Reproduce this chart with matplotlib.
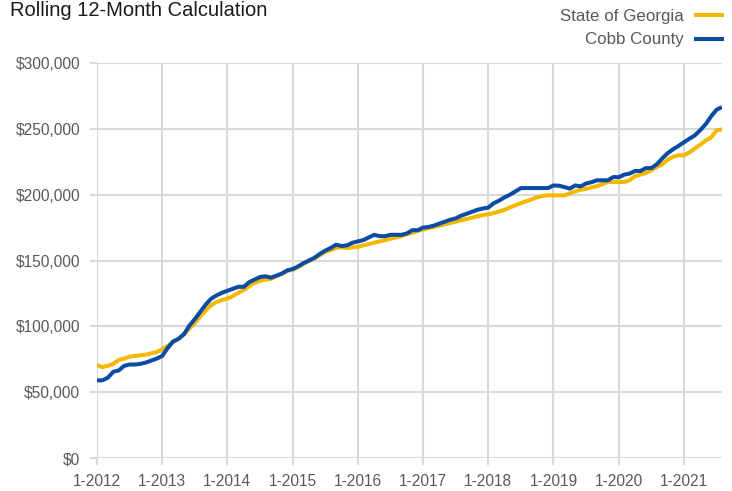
import matplotlib
matplotlib.use("Agg")
import matplotlib.pyplot as plt
from matplotlib.ticker import FuncFormatter

# rolling 12-month median price, thousands of dollars, Jan 2012 .. Aug 2021
georgia = [
    70.5, 69.0, 70.0, 71.5, 74.5, 75.5, 77.0, 77.5, 78.0, 78.5, 79.5, 80.5,
    82.5, 85.0, 88.0, 90.5, 94.0, 98.5, 102.5, 107.5, 112.0, 116.0, 118.5, 120.0,
    121.0, 123.0, 125.5, 127.5, 130.5, 133.0, 134.5, 135.5, 136.0, 138.0, 140.0, 142.0,
    143.0, 145.0, 147.5, 149.5, 151.5, 154.0, 156.5, 158.0, 159.5, 160.0, 159.5, 160.0,
    160.3, 161.5, 162.5, 163.5, 164.5, 165.5, 166.5, 167.5, 168.5, 170.0, 171.0, 172.5,
    173.5, 174.5, 175.5, 176.5, 177.5, 178.5, 179.5, 180.5, 181.5, 182.5, 183.5, 184.5,
    185.0, 186.0, 187.3, 188.5, 190.3, 192.0, 193.5, 195.0, 196.5, 198.0, 199.0, 199.5,
    199.5, 199.5, 199.5, 201.0, 202.5, 203.8, 204.4, 205.5, 206.5, 207.9, 209.6, 209.6,
    209.6, 209.6, 211.0, 214.0, 215.2, 216.5, 218.5, 221.0, 223.0, 226.5, 228.8, 229.9,
    229.9, 232.0, 235.0, 238.0, 241.0, 243.5, 248.8, 249.6,
]
cobb = [
    59.0, 59.0, 61.0, 65.5, 66.5, 70.0, 71.0, 71.0, 71.5, 72.5, 74.0, 75.5,
    77.5, 83.5, 88.5, 90.5, 94.0, 100.5, 105.5, 111.0, 116.5, 121.0, 123.5, 125.5,
    127.0, 128.5, 130.0, 130.0, 133.5, 135.5, 137.5, 138.0, 137.0, 138.5, 140.0, 142.5,
    143.5, 145.5, 148.0, 150.0, 152.0, 155.0, 157.5, 159.5, 162.0, 161.0, 161.5, 163.5,
    164.5, 165.5, 167.5, 169.5, 168.5, 168.5, 169.5, 169.5, 169.5, 170.5, 173.0, 173.0,
    175.0, 175.5, 176.5, 178.0, 179.5, 181.0, 182.0, 184.0, 185.5, 187.0, 188.5, 189.5,
    190.2, 193.5, 195.5, 198.0, 200.0, 202.5, 205.0, 205.0, 205.0, 205.0, 205.0, 205.0,
    207.0, 206.8, 205.8, 204.6, 207.0, 206.3, 208.5, 209.5, 210.9, 210.9, 210.9, 213.4,
    213.2, 215.2, 216.0, 218.0, 218.0, 220.2, 220.2, 223.0, 227.5, 231.5, 234.5, 237.0,
    239.8, 242.5, 245.0, 249.0, 253.5, 259.5, 264.5, 266.5,
]
year_labels = ["1-2012", "1-2013", "1-2014", "1-2015", "1-2016",
               "1-2017", "1-2018", "1-2019", "1-2020", "1-2021"]

plt.rcParams["font.family"] = ["Liberation Sans", "DejaVu Sans"]

months = list(range(len(georgia)))
fig = plt.figure(figsize=(7.32, 4.91), dpi=100)
ax = fig.add_axes([0.1325, 0.0672, 0.8538, 0.8045])

grid_c = "#d9d9d9"
ax.plot(months, [v * 1000 for v in georgia], color="#f5b800", lw=2.9,
        label="State of Georgia", solid_capstyle="butt", zorder=3)
ax.plot(months, [v * 1000 for v in cobb], color="#0a4ca3", lw=2.9,
        label="Cobb County", solid_capstyle="butt", zorder=4)

ax.set_xlim(0, len(months) - 1)
ax.set_ylim(0, 300000)
ax.set_xticks(range(0, 12 * len(year_labels), 12))
ax.set_xticklabels(year_labels)
ax.set_yticks(range(0, 300001, 50000))
ax.yaxis.set_major_formatter(FuncFormatter(lambda v, p: "${:,.0f}".format(v)))
ax.grid(True, color=grid_c, lw=1.5)
ax.set_axisbelow(True)
for s in ax.spines.values():
    s.set_visible(False)
ax.tick_params(axis="both", colors=grid_c, width=1.5, length=5,
               labelcolor="#595959", labelsize=11.2)
ax.tick_params(axis="x", pad=6.5)
ax.tick_params(axis="y", pad=7)

fig.text(0.013, 1 - 16 / 491, "Rolling 12-Month Calculation", ha="left", va="baseline",
         fontsize=14.5, color="#1a1a1a")
ax.legend(loc="upper right", bbox_to_anchor=(724 / 732, 1 - 9 / 491),
          bbox_transform=fig.transFigure, borderaxespad=0, borderpad=0,
          frameon=False, markerfirst=False, fontsize=12.2, labelcolor="#595959",
          handlelength=1.8, handletextpad=0.6, labelspacing=0.5)

fig.savefig("out.png", dpi=100)
